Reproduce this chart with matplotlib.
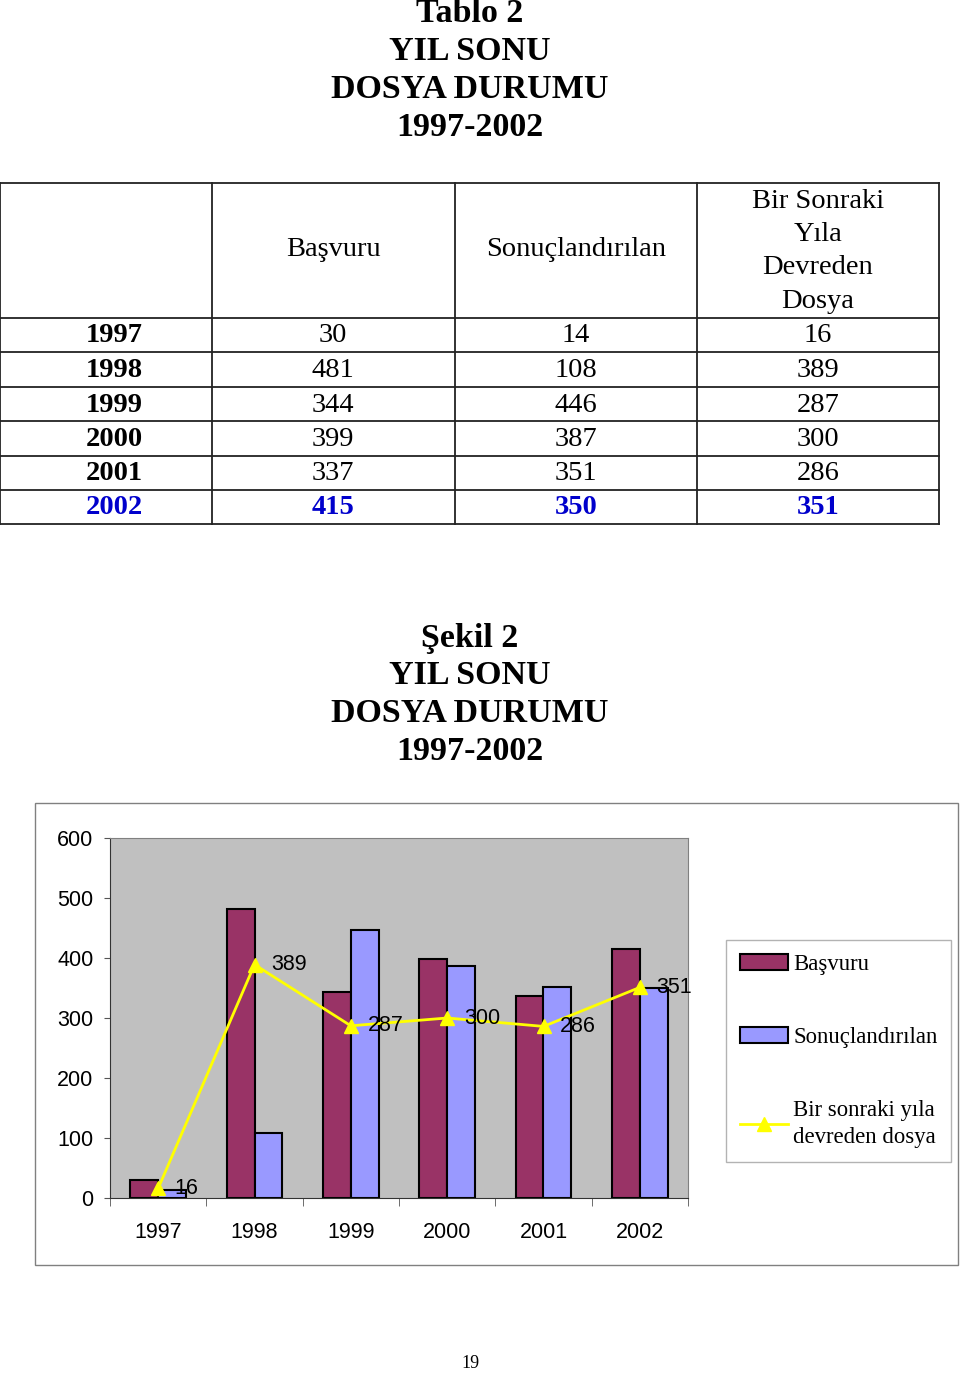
import matplotlib
matplotlib.use("Agg")
from matplotlib import pyplot as plt
from matplotlib.patches import Rectangle
import numpy

# data
years = ["1997", "1998", "1999", "2000", "2001", "2002"]
basvuru = [30, 481, 344, 399, 337, 415]
sonuc = [14, 108, 446, 387, 351, 350]
devreden = [16, 389, 287, 300, 286, 351]

col_headers = ["", "Başvuru", "Sonuçlandırılan", "Bir Sonraki\nYıla\nDevreden\nDosya"]
title_lines = ["Tablo 2", "YIL SONU", "DOSYA DURUMU", "1997-2002"]
chart_title_lines = ["Şekil 2", "YIL SONU", "DOSYA DURUMU", "1997-2002"]
yticks = [0, 100, 200, 300, 400, 500, 600]
legend_labels = ["Başvuru", "Sonuçlandırılan", "Bir sonraki yıla\ndevreden dosya"]

serif = "Liberation Serif"
sans = "Liberation Sans"

W, H = 960, 1374
fig = plt.figure(figsize=(9.6, 13.74), dpi=100)
fig.patch.set_facecolor("white")

# page overlay in pixel coords
page = fig.add_axes([0, 0, 1, 1], zorder=0)
page.set_xlim(0, W)
page.set_ylim(H, 0)
page.axis("off")

# titles
for i, t in enumerate(title_lines):
    page.text(470, 13 + i * 38, t, ha="center", va="center", fontsize=24.5,
              fontweight="bold", family=serif)
for i, t in enumerate(chart_title_lines):
    page.text(470, 638 + i * 38, t, ha="center", va="center", fontsize=24.5,
              fontweight="bold", family=serif)

# table
col_x = [0, 212, 455, 697, 939]
row_y = [183, 318, 352, 387, 421, 456, 490, 524]
for x in col_x:
    page.plot([x, x], [row_y[0], row_y[-1]], color="#222222", lw=1.3)
for y in row_y:
    page.plot([col_x[0], col_x[-1]], [y, y], color="#222222", lw=1.3)

col_cx = [114, 333, 576, 818]
page.text(col_cx[1], 250, col_headers[1], ha="center", va="center", fontsize=20.5, family=serif)
page.text(col_cx[2], 250, col_headers[2], ha="center", va="center", fontsize=20.5, family=serif)
for i, t in enumerate(col_headers[3].split("\n")):
    page.text(col_cx[3], 201 + i * 33.5, t, ha="center", va="center", fontsize=20.5, family=serif)

for r in range(len(years)):
    yc = (row_y[r + 1] + row_y[r + 2]) / 2 + 1
    last = r == len(years) - 1
    color = "#0000CC" if last else "black"
    weight = "bold" if last else "normal"
    page.text(col_cx[0], yc, years[r], ha="center", va="center", fontsize=20.5,
              fontweight="bold", family=serif, color=color)
    for c, vals in enumerate([basvuru, sonuc, devreden]):
        page.text(col_cx[c + 1], yc, str(vals[r]), ha="center", va="center",
                  fontsize=20.5, fontweight=weight, family=serif, color=color)

# chart outer box
page.add_patch(Rectangle((35, 803), 958 - 35, 1265 - 803, fill=False,
                         edgecolor="#808080", lw=1))

# page number
page.text(470, 1364, "19", ha="center", va="center", fontsize=13, family=serif)

# chart
ax = fig.add_axes([110 / W, 1 - 1198 / H, (688 - 110) / W, (1198 - 838) / H], zorder=2)
ax.set_facecolor("#C0C0C0")
x = numpy.arange(len(years))
bw = 0.29
b1 = ax.bar(x - bw / 2, basvuru, bw, color="#993366", edgecolor="black", lw=1.5,
            label=legend_labels[0], zorder=2)
b2 = ax.bar(x + bw / 2, sonuc, bw, color="#9999FF", edgecolor="black", lw=1.5,
            label=legend_labels[1], zorder=2)
ln, = ax.plot(x, devreden, color="#FFFF00", lw=2.0, marker="^", ms=10,
              label=legend_labels[2], zorder=3)
for xi, v in zip(x, devreden):
    ax.annotate(str(v), (xi, v), xytext=(12, 0), textcoords="offset points",
                ha="left", va="center", fontsize=15.5, family=sans, zorder=4)

ax.set_xlim(-0.5, len(years) - 0.5)
ax.set_ylim(0, 600)
ax.set_yticks(yticks)
ax.set_yticklabels([str(v) for v in yticks], family=sans, fontsize=15.5)
ax.tick_params(axis="y", length=4, pad=8, color="#555555")
ax.set_xticks(x)
ax.set_xticklabels(years, family=sans, fontsize=15.5)
ax.set_xticks(numpy.arange(-0.5, len(years), 1), minor=True)
ax.tick_params(axis="x", which="major", length=0, pad=17)
ax.tick_params(axis="x", which="minor", length=6, color="#555555")
for s in ["top", "right"]:
    ax.spines[s].set_color("#808080")
for s in ["left", "bottom"]:
    ax.spines[s].set_color("#333333")

leg = fig.legend([b1, b2, ln], legend_labels, loc="upper left",
                 bbox_to_anchor=(726 / W, 1 - 940 / H),
                 prop={"family": serif, "size": 16.4}, frameon=True, fancybox=False,
                 edgecolor="#A0A0A0", labelspacing=2.3, handlelength=2.1,
                 handletextpad=0.25, borderpad=0.6, borderaxespad=0)
leg.get_frame().set_linewidth(1)
leg.get_texts()[2].set_linespacing(1.35)

fig.savefig("out.png", dpi=100)
